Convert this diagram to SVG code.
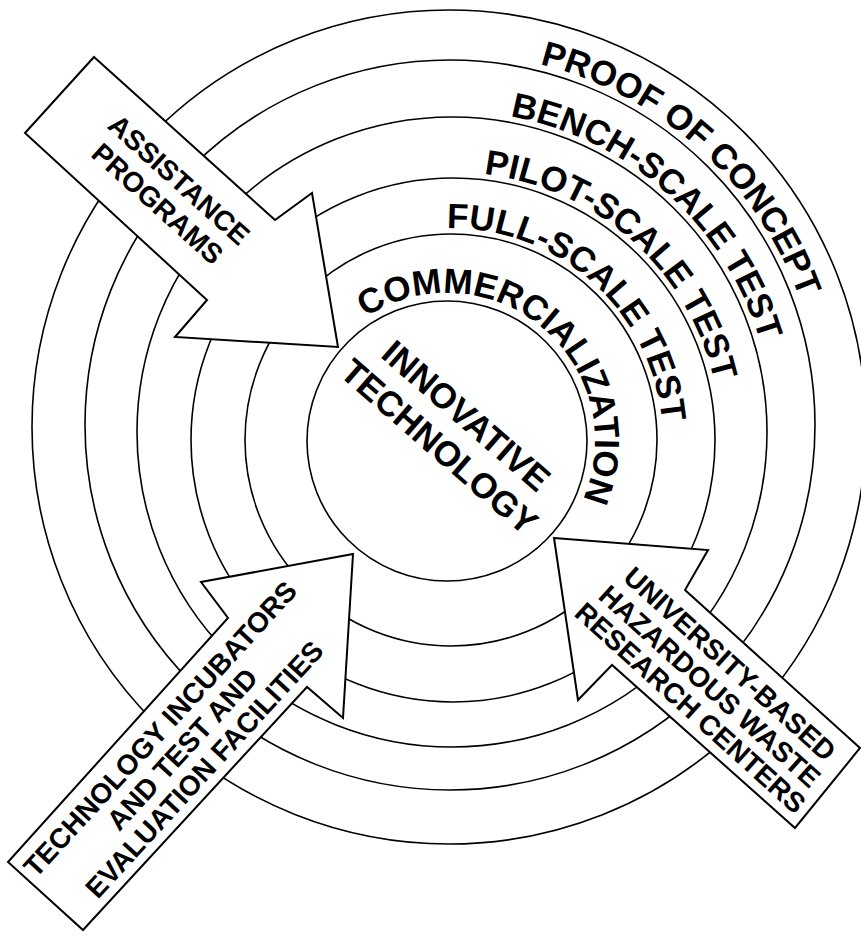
<svg xmlns="http://www.w3.org/2000/svg" width="861" height="935" viewBox="0 0 861 935">
<style>
.ring{fill:none;stroke:#000;stroke-width:1.6}
.arrow{fill:#fff;stroke:#000;stroke-width:2;stroke-linejoin:miter}
.lbl{font-family:"Liberation Sans",Arial,sans-serif;font-weight:bold;fill:#000}
.rt{font-size:35px}
.at{font-size:28px;text-anchor:middle}
</style>
<defs>
<path id="p6" d="M134.5,227.8 A372,372 0 1 1 679.1,718.1"/>
<path id="p5" d="M179.8,261.9 A321,321 0 1 1 649.7,684.9"/>
<path id="p4" d="M225.7,298.0 A268,268 0 1 1 618.1,651.2"/>
<path id="p3" d="M271.2,327.6 A212,212 0 1 1 581.6,607.1"/>
<path id="p2" d="M318.8,367 A148,148 0 1 1 542.1,554.4"/>
</defs>
<rect width="861" height="935" fill="#fff"/>
<g id="rings">
<circle class="ring" cx="449" cy="427" r="417"/>
<circle class="ring" cx="450" cy="425" r="365"/>
<circle class="ring" cx="452" cy="432" r="315"/>
<circle class="ring" cx="453" cy="440" r="262"/>
<circle class="ring" cx="451" cy="440" r="206"/>
<circle class="ring" cx="447" cy="441" r="140"/>
</g>
<g id="ring-labels" class="lbl rt">
<text id="proof"><textPath href="#p6" startOffset="50%" text-anchor="middle">PROOF OF CONCEPT</textPath></text>
<text id="bench"><textPath href="#p5" startOffset="50%" text-anchor="middle">BENCH-SCALE TEST</textPath></text>
<text id="pilot"><textPath href="#p4" startOffset="50%" text-anchor="middle">PILOT-SCALE TEST</textPath></text>
<text id="full"><textPath href="#p3" startOffset="50%" text-anchor="middle">FULL-SCALE TEST</textPath></text>
<text id="comm"><textPath href="#p2" startOffset="50%" text-anchor="middle">COMMERCIALIZATION</textPath></text>
</g>
<g id="center" class="lbl" transform="translate(453,431) rotate(41)">
<text class="rt" text-anchor="middle" y="-8">INNOVATIVE</text>
<text class="rt" text-anchor="middle" y="33">TECHNOLOGY</text>
</g>
<g id="connectors">
<g id="arrow-assistance">
<polygon class="arrow" points="94,57 275,220 312,193 338,347 175,337 207,300 25,133"/>
<g class="lbl at" transform="translate(168.5,191.5) rotate(42)">
<text y="-6">ASSISTANCE</text>
<text y="26">PROGRAMS</text>
</g>
</g>
<g id="arrow-incubators">
<polygon class="arrow" points="8,862 228,618 201,582 353,554 343,718 307,687 83,930"/>
<g class="lbl at" transform="translate(182,749) rotate(-47.5)">
<text y="-20">TECHNOLOGY INCUBATORS</text>
<text y="10">AND TEST AND</text>
<text y="40">EVALUATION FACILITIES</text>
</g>
</g>
<g id="arrow-university">
<polygon class="arrow" points="554,538 708,550 685,590 860,748 795,828 612,665 578,700"/>
<g class="lbl at" transform="translate(710,686) rotate(42)">
<text y="-20">UNIVERSITY-BASED</text>
<text y="10">HAZARDOUS WASTE</text>
<text y="39">RESEARCH CENTERS</text>
</g>
</g>
</g>
</svg>
